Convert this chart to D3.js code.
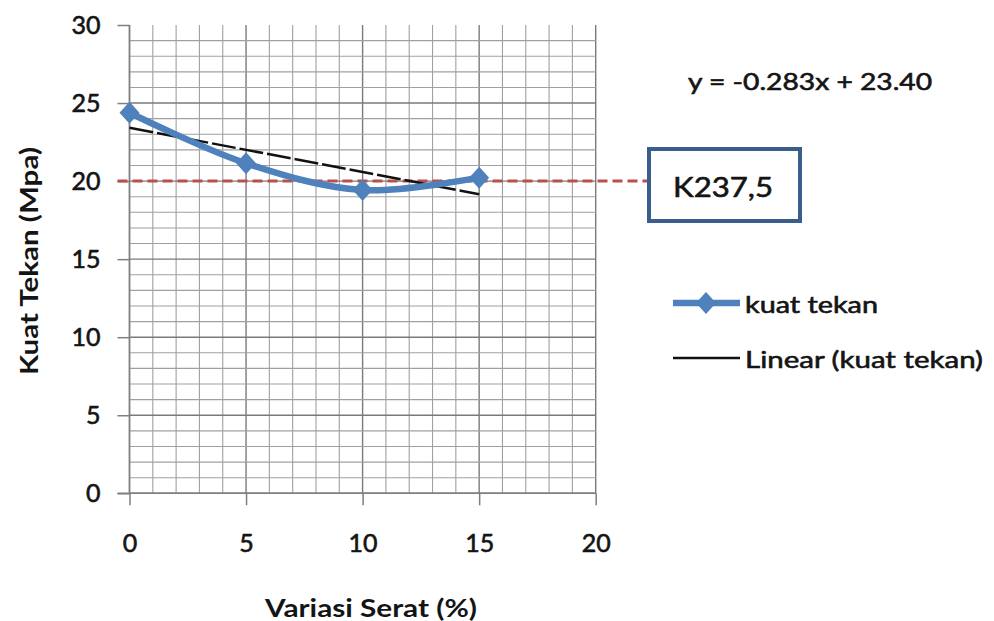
<!DOCTYPE html>
<html>
<head>
<meta charset="utf-8">
<script src="https://cdn.jsdelivr.net/npm/d3@7"></script>
<style>
  html, body { margin: 0; padding: 0; background: #fff; }
  svg { display: block; font-family: Lato, "Open Sans", sans-serif; }
</style>
</head>
<body>
<svg id="chart" width="994" height="621"></svg>
<script>
// ---- data ----
const variasiSerat = [0, 5, 10, 15];
const kuatTekan = [24.38, 21.14, 19.43, 20.22];
const xTicks = [0, 5, 10, 15, 20];
const yTicks = [0, 5, 10, 15, 20, 25, 30];
const batasNilai = [20];
const batasLabel = ["K237,5"];
const seriesNames = ["kuat tekan", "Linear (kuat tekan)"];
const equationText = ["y = -0.283x + 23.40"];
const xTitle = ["Variasi Serat (%)"];
const yTitle = ["Kuat Tekan (Mpa)"];

// ---- setup ----
const svg = d3.select("#chart");
const x = d3.scaleLinear().domain([0, 20]).range([129.5, 595.7]);
const y = d3.scaleLinear().domain([0, 30]).range([493.3, 25]);

const blue = "#4F81BD";
const red = "#B9504D";
const ink = "#141414";
const heavy = sel => sel.attr("stroke", ink).attr("stroke-width", 0.6).attr("paint-order", "stroke");

// grid
const grid = svg.append("g");
const minorX = d3.range(0, 21, 1);
const minorY = d3.range(0, 30, 1);
grid.selectAll("line.vx").data(minorX).join("line")
  .attr("x1", d => x(d)).attr("x2", d => x(d))
  .attr("y1", y(30)).attr("y2", y(0))
  .attr("stroke", d => d % 5 === 0 ? "#7a7a7a" : "#a0a0a0")
  .attr("stroke-width", d => d % 5 === 0 ? 1.4 : 1.1);
grid.selectAll("line.hy").data(minorY).join("line")
  .attr("x1", x(0)).attr("x2", x(20))
  .attr("y1", d => y(d)).attr("y2", d => y(d))
  .attr("stroke", d => d % 5 === 0 ? "#7a7a7a" : "#a0a0a0")
  .attr("stroke-width", d => d % 5 === 0 ? 1.4 : 1.1);

// axes
const axisColor = "#7f7f7f";
const yAxis = svg.append("g").attr("transform", `translate(${x(0)},0)`)
  .call(d3.axisLeft(y).tickValues(yTicks).tickSize(12).tickPadding(17).tickFormat(d3.format("d")));
const xAxis = svg.append("g").attr("transform", `translate(0,${y(0)})`)
  .call(d3.axisBottom(x).tickValues(xTicks).tickSize(12).tickPadding(26).tickFormat(d3.format("d")));
[xAxis, yAxis].forEach(a => {
  a.select(".domain").attr("stroke", axisColor).attr("stroke-width", 1.5);
  a.selectAll(".tick line").attr("stroke", axisColor).attr("stroke-width", 1.5);
  a.selectAll(".tick text").attr("font-family", "Lato, sans-serif")
    .attr("font-size", 25).attr("fill", ink).attr("font-weight", 400)
    .call(heavy);
});
xAxis.select(".domain").attr("d", `M${x(0) - 12},0H${x(20)}`);
yAxis.select(".domain").attr("d", `M0,${y(30)}V${y(0)}`);
xAxis.selectAll(".tick text").attr("dy", "0.35em").attr("y", 50);

// axis titles
svg.append("text").text(xTitle[0])
  .attr("x", 371).attr("y", 607).attr("text-anchor", "middle").attr("dominant-baseline", "central")
  .attr("font-size", 24).attr("font-weight", 700).attr("fill", ink)
  .attr("textLength", 212).attr("lengthAdjust", "spacingAndGlyphs");
svg.append("text").text(yTitle[0])
  .attr("transform", "translate(28,261) rotate(-90)")
  .attr("text-anchor", "middle").attr("dominant-baseline", "central")
  .attr("font-size", 24).attr("font-weight", 700).attr("fill", ink)
  .attr("textLength", 228).attr("lengthAdjust", "spacingAndGlyphs");

// threshold dashed line
svg.append("line")
  .attr("x1", x(0) - 12).attr("x2", 648)
  .attr("y1", y(batasNilai[0])).attr("y2", y(batasNilai[0]))
  .attr("stroke", red).attr("stroke-width", 3).attr("stroke-dasharray", "10,5");

// regression
const mx = d3.mean(variasiSerat), my = d3.mean(kuatTekan);
const slope = d3.sum(variasiSerat.map((v, i) => (v - mx) * (kuatTekan[i] - my))) /
              d3.sum(variasiSerat.map(v => (v - mx) ** 2));
const intercept = my - slope * mx;
const xMin = d3.min(variasiSerat), xMax = d3.max(variasiSerat);
svg.append("line")
  .attr("x1", x(xMin)).attr("y1", y(intercept + slope * xMin))
  .attr("x2", x(xMax)).attr("y2", y(intercept + slope * xMax))
  .attr("stroke", "#111").attr("stroke-width", 2.5).attr("stroke-dasharray", "24,4");

// smoothed series
const pts = variasiSerat.map((v, i) => [v, kuatTekan[i]]);
svg.append("path").datum(pts)
  .attr("d", d3.line().x(d => x(d[0])).y(d => y(d[1])).curve(d3.curveCatmullRom.alpha(0.5)))
  .attr("fill", "none").attr("stroke", blue).attr("stroke-width", 6.5).attr("stroke-linecap", "round");
const diamond = "M0,-11L10,0L0,11L-10,0Z";
svg.selectAll("path.mk").data(pts).join("path")
  .attr("d", diamond)
  .attr("transform", d => `translate(${x(d[0])},${y(d[1])})`)
  .attr("fill", blue);

// box label
svg.append("rect").attr("x", 649).attr("y", 149).attr("width", 151).attr("height", 72)
  .attr("fill", "#fff").attr("stroke", "#3A5E8C").attr("stroke-width", 4);
svg.append("text").text(batasLabel[0])
  .attr("x", 723).attr("y", 186).attr("text-anchor", "middle").attr("dominant-baseline", "central")
  .attr("font-size", 27).attr("fill", ink)
  .attr("textLength", 100).attr("lengthAdjust", "spacingAndGlyphs").call(heavy);

// equation
svg.append("text").text(equationText[0])
  .attr("x", 688).attr("y", 80).attr("dominant-baseline", "central")
  .attr("font-size", 24).attr("fill", ink)
  .attr("textLength", 244).attr("lengthAdjust", "spacingAndGlyphs").call(heavy);

// legend
const lg = svg.append("g");
lg.append("line").attr("x1", 673).attr("x2", 740).attr("y1", 303).attr("y2", 303)
  .attr("stroke", blue).attr("stroke-width", 6.5);
lg.append("path").attr("d", diamond).attr("transform", "translate(706,303)").attr("fill", blue);
lg.append("text").text(seriesNames[0]).attr("x", 745).attr("y", 303)
  .attr("dominant-baseline", "central").attr("font-size", 24).attr("fill", ink)
  .attr("textLength", 133).attr("lengthAdjust", "spacingAndGlyphs").call(heavy);
lg.append("line").attr("x1", 673).attr("x2", 740).attr("y1", 358).attr("y2", 358)
  .attr("stroke", "#111").attr("stroke-width", 2.5);
lg.append("text").text(seriesNames[1]).attr("x", 745).attr("y", 358)
  .attr("dominant-baseline", "central").attr("font-size", 24).attr("fill", ink)
  .attr("textLength", 238).attr("lengthAdjust", "spacingAndGlyphs").call(heavy);
</script>
</body>
</html>
